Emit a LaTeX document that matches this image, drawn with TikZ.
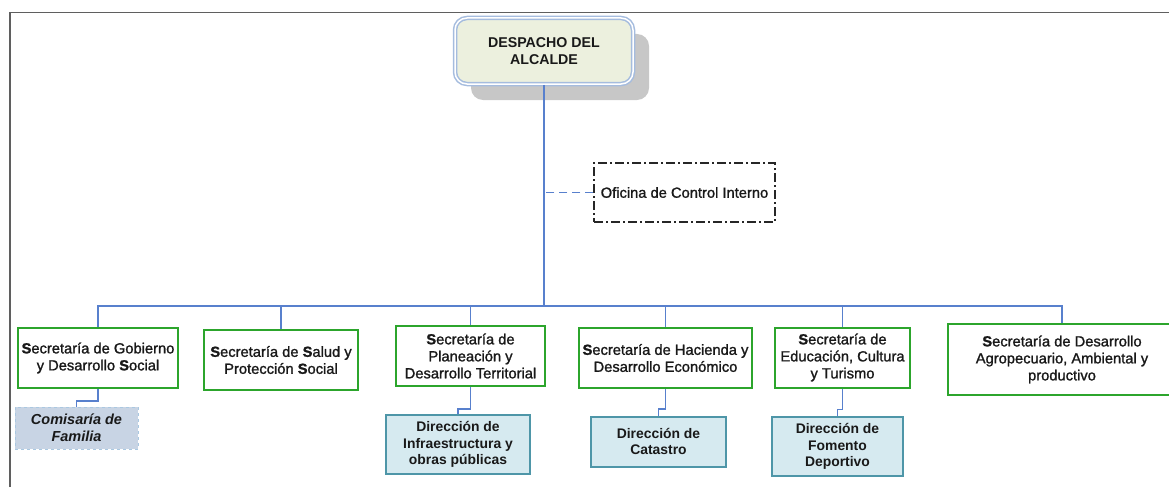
\documentclass[tikz,border=0pt]{standalone}
\usepackage{fontspec}
\setmainfont{Liberation Sans}
\newfontfamily\cuerpo{Liberation Sans}[FakeBold=1.3]
\usepackage{xcolor}
\usetikzlibrary{shadows}
\definecolor{lineaazul}{RGB}{88,128,205}
\definecolor{verdesec}{RGB}{44,165,44}
\definecolor{bordedir}{RGB}{78,150,168}
\definecolor{rellenodir}{RGB}{214,234,240}
\definecolor{rellenocom}{RGB}{200,212,228}
\definecolor{bordecom}{RGB}{170,200,225}
\definecolor{rellenoalc}{RGB}{236,240,222}
\definecolor{bordealc}{RGB}{165,188,222}
\definecolor{marco}{RGB}{95,95,95}
\definecolor{textooscuro}{RGB}{25,25,25}
\newcommand{\Sn}{\textbf{S}}

\begin{document}
\begin{tikzpicture}[x=1pt,y=-1pt,
secretaria/.style={draw=verdesec,line width=2pt,fill=white,align=center,inner sep=1pt,text=textooscuro,font=\fontsize{14.7}{17}\cuerpo},
direccion/.style={draw=bordedir,line width=2pt,fill=rellenodir,align=center,inner sep=1pt,text=textooscuro,font=\fontsize{13.9}{16.7}\selectfont\bfseries},
conector/.style={draw=lineaazul,line width=1.5pt}]
\useasboundingbox (0,0) rectangle (1169,487);
\draw[marco,line width=1.5pt] (10,487) -- (10,12.5) -- (1169,12.5);

\node[draw=bordealc,double=white,double distance=1.5pt,line width=1.5pt,rounded corners=12pt,fill=rellenoalc,
  drop shadow={shadow xshift=16pt,shadow yshift=-16pt,fill=black!22,opacity=1},
  minimum width=178pt,minimum height=66pt,align=center,text=textooscuro,
  font=\fontsize{14.2}{16.6}\selectfont\bfseries] (alcalde) at (544,51) {DESPACHO DEL\\ALCALDE};

\node[draw=black!85,line width=1.3pt,dash pattern=on 9pt off 3pt on 2pt off 3pt,minimum width=181pt,minimum height=59pt,
  text=textooscuro,font=\fontsize{14.7}{17}\cuerpo] (control) at (684.5,192.5) {Oficina de Control Interno};

\coordinate (bus) at (544,306);
\draw[conector] (alcalde.south) -- (bus);
\draw[conector,dashed,dash pattern=on 8pt off 5pt] (control.west) -- (control.west -| alcalde.south);

\node[secretaria,minimum width=160pt,minimum height=60pt] (gobierno) at (98,358) {\Sn ecretaría de Gobierno\\y Desarrollo \Sn ocial};
\node[secretaria,minimum width=154pt,minimum height=60pt] (salud) at (281,360) {\Sn ecretaría de \Sn alud y\\Protección \Sn ocial};
\node[secretaria,minimum width=149pt,minimum height=60pt] (planeacion) at (470.5,356) {\Sn ecretaría de\\Planeación y\\Desarrollo Territorial};
\node[secretaria,minimum width=173pt,minimum height=60pt] (hacienda) at (665.5,358) {\Sn ecretaría de Hacienda y\\Desarrollo Económico};
\node[secretaria,minimum width=135pt,minimum height=60pt] (educacion) at (842.5,357.5) {\Sn ecretaría de\\Educación, Cultura\\y Turismo};
\node[secretaria,minimum width=228pt,minimum height=71pt] (agro) at (1062,359.5) {\Sn ecretaría de Desarrollo\\Agropecuario, Ambiental y\\productivo};

\foreach \s in {gobierno,salud,planeacion,hacienda,educacion,agro}
  \draw[conector] (\s.north) |- (bus);

\node[draw=bordecom,dashed,line width=0.8pt,fill=rellenocom,minimum width=123pt,minimum height=42pt,align=center,
  text=textooscuro,font=\fontsize{14.5}{17}\selectfont\bfseries\itshape] (comisaria) at (76.5,428) {Comisaría de\\Familia};
\node[direccion,minimum width=144pt,minimum height=59pt] (infra) at (458,444.5) {Dirección de\\Infraestructura y\\obras públicas};
\node[direccion,minimum width=135pt,minimum height=50pt] (catastro) at (658.5,441.5) {Dirección de\\Catastro};
\node[direccion,minimum width=131pt,minimum height=59pt] (fomento) at (837.5,446.5) {Dirección de\\Fomento\\Deportivo};

\draw[conector] (gobierno.south) -- ++(0,12) -| (comisaria.north);
\draw[conector] (planeacion.south) -- ++(0,22) -| (infra.north);
\draw[conector] (hacienda.south) -- ++(0,20) -| (catastro.north);
\draw[conector] (educacion.south) -- ++(0,21) -| (fomento.north);
\end{tikzpicture}
\end{document}
